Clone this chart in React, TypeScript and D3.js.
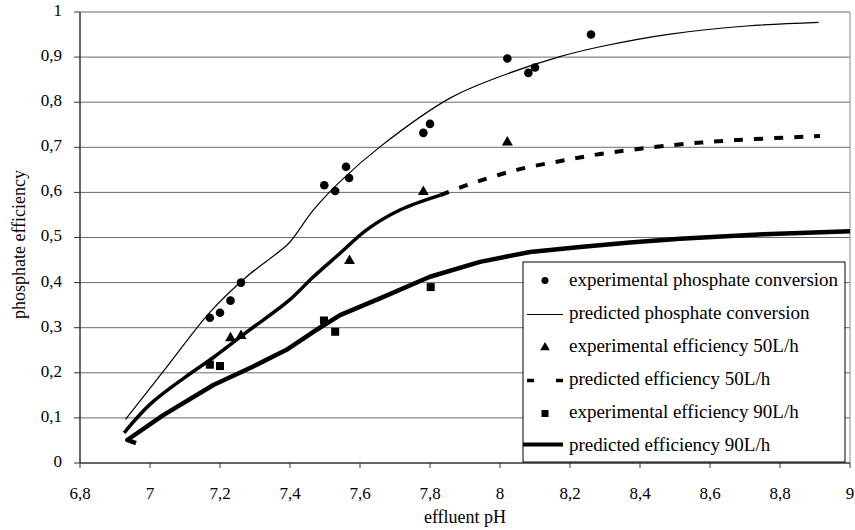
import React, { useEffect } from "react";
import * as d3 from "d3";

// Experimental data
const expPhosX = [7.171, 7.2, 7.23, 7.26, 7.498, 7.529, 7.56, 7.569, 7.781, 7.8, 8.021, 8.081, 8.1, 8.26];
const expPhosY = [0.322, 0.333, 0.36, 0.4, 0.616, 0.603, 0.657, 0.632, 0.732, 0.752, 0.897, 0.865, 0.877, 0.95];

const exp50X = [7.23, 7.26, 7.57, 7.781, 8.021];
const exp50Y = [0.277, 0.282, 0.448, 0.601, 0.711];

const exp90X = [7.171, 7.2, 7.497, 7.529, 7.802];
const exp90Y = [0.218, 0.215, 0.316, 0.291, 0.39];

// Predicted curves
const predPhosX = [6.93, 7.038, 7.171, 7.276, 7.371, 7.4, 7.467, 7.543, 7.657, 7.857, 8.0, 8.171, 8.286, 8.486, 8.705, 8.91];
const predPhosY = [0.097, 0.203, 0.334, 0.413, 0.47, 0.49, 0.561, 0.624, 0.701, 0.809, 0.857, 0.901, 0.923, 0.951, 0.969, 0.977];

const pred50X = [6.926, 7.0, 7.1, 7.181, 7.276, 7.398, 7.467, 7.543, 7.619, 7.714, 7.83];
const pred50Y = [0.067, 0.13, 0.19, 0.234, 0.29, 0.361, 0.413, 0.465, 0.517, 0.561, 0.594];
const pred50DashX = [7.83, 7.905, 8.048, 8.19, 8.286, 8.495, 8.676, 8.914];
const pred50DashY = [0.594, 0.616, 0.65, 0.672, 0.685, 0.705, 0.716, 0.725];

const pred90X = [6.96, 6.935, 7.038, 7.181, 7.295, 7.39, 7.467, 7.543, 7.657, 7.8, 7.943, 8.086, 8.229, 8.371, 8.514, 8.752, 9.0];
const pred90Y = [0.044, 0.051, 0.106, 0.173, 0.214, 0.251, 0.291, 0.328, 0.365, 0.413, 0.446, 0.468, 0.479, 0.489, 0.497, 0.507, 0.514];

const xTicks = [6.8, 7, 7.2, 7.4, 7.6, 7.8, 8, 8.2, 8.4, 8.6, 8.8, 9];
const yTicks = [0, 0.1, 0.2, 0.3, 0.4, 0.5, 0.6, 0.7, 0.8, 0.9, 1];

const legendLabels = [
  "experimental phosphate conversion",
  "predicted phosphate conversion",
  "experimental efficiency 50L/h",
  "predicted efficiency 50L/h",
  "experimental efficiency 90L/h",
  "predicted efficiency 90L/h",
];

const fmt = (v: number) => String(+v.toFixed(1)).replace(".", ",");

export default function App() {
  useEffect(() => {
    document.body.style.margin = "0";
  }, []);

  const W = 855, H = 530;
  const left = 80, right = 850, top = 12, bottom = 463;
  const x = d3.scaleLinear().domain([6.8, 9]).range([left, right]);
  const y = d3.scaleLinear().domain([0, 1]).range([bottom, top]);

  const line = d3
    .line<[number, number]>()
    .x((d) => x(d[0]))
    .y((d) => y(d[1]))
    .curve(d3.curveCatmullRom.alpha(0.5));
  const lineLin = d3
    .line<[number, number]>()
    .x((d) => x(d[0]))
    .y((d) => y(d[1]));
  const zip = (a: number[], b: number[]) => a.map((v, i) => [v, b[i]] as [number, number]);

  const font = "'Liberation Serif', 'Times New Roman', serif";
  const tri = d3.symbol().type(d3.symbolTriangle).size(52)();

  const lgX = 523, lgY = 262, lgW = 322, lgH = 200;
  const rowY = (i: number) => 281.5 + i * 33;
  const symX = 545;

  return (
    <svg width={W} height={H} style={{ display: "block", background: "#fff" }} fontFamily={font}>
      {yTicks.filter((t) => t > 0).map((t) => (
        <line key={"g" + t} x1={left} x2={right} y1={y(t)} y2={y(t)} stroke="#6a6a6a" strokeWidth={1} />
      ))}
      <line x1={right} x2={right} y1={top} y2={bottom} stroke="#8a8a8a" strokeWidth={1} />
      <line x1={left} x2={left} y1={top} y2={bottom} stroke="#333" strokeWidth={1.5} />
      <line x1={left} x2={right} y1={bottom} y2={bottom} stroke="#333" strokeWidth={1.5} />
      {yTicks.map((t) => (
        <g key={"y" + t}>
          <line x1={left - 6} x2={left} y1={y(t)} y2={y(t)} stroke="#333" />
          <text x={left - 18} y={y(t)} textAnchor="end" dominantBaseline="middle" fontSize={17}>
            {fmt(t)}
          </text>
        </g>
      ))}
      {xTicks.map((t) => (
        <g key={"x" + t}>
          <line x1={x(t)} x2={x(t)} y1={bottom} y2={bottom + 5} stroke="#333" />
          <text x={x(t)} y={499} textAnchor="middle" fontSize={17}>
            {fmt(t)}
          </text>
        </g>
      ))}
      <text x={(left + right) / 2} y={523} textAnchor="middle" fontSize={18}>
        effluent pH
      </text>
      <text
        transform={`translate(25,${(top + bottom) / 2 + 7}) rotate(-90)`}
        textAnchor="middle"
        fontSize={18}
      >
        phosphate efficiency
      </text>

      <path d={line(zip(predPhosX, predPhosY)) || ""} fill="none" stroke="#000" strokeWidth={1.2} />
      <path d={line(zip(pred50X, pred50Y)) || ""} fill="none" stroke="#000" strokeWidth={3.5} />
      <path
        d={line(zip(pred50DashX, pred50DashY)) || ""}
        fill="none"
        stroke="#000"
        strokeWidth={4}
        strokeDasharray="9,11"
      />
      <path d={lineLin(zip(pred90X, pred90Y)) || ""} fill="none" stroke="#000" strokeWidth={4.5} strokeLinejoin="round" />

      {expPhosX.map((v, i) => (
        <circle key={"c" + i} cx={x(v)} cy={y(expPhosY[i])} r={4.3} fill="#000" />
      ))}
      {exp50X.map((v, i) => (
        <path key={"t" + i} d={tri || ""} transform={`translate(${x(v)},${y(exp50Y[i])})`} fill="#000" />
      ))}
      {exp90X.map((v, i) => (
        <rect key={"s" + i} x={x(v) - 4} y={y(exp90Y[i]) - 4} width={8} height={8} fill="#000" />
      ))}

      <rect x={lgX} y={lgY} width={lgW} height={lgH} fill="#fff" stroke="#000" strokeWidth={1} />
      {legendLabels.map((l, i) => (
        <text key={"l" + i} x={569} y={rowY(i)} dominantBaseline="middle" fontSize={19}>
          {l}
        </text>
      ))}
      <circle cx={symX} cy={rowY(0) - 1} r={3.5} fill="#000" />
      <line x1={527} x2={563} y1={rowY(1)} y2={rowY(1)} stroke="#000" strokeWidth={1.2} />
      <path d={d3.symbol().type(d3.symbolTriangle).size(40)() || ""} transform={`translate(${symX},${rowY(2)})`} fill="#000" />
      <line x1={523} x2={566} y1={rowY(3)} y2={rowY(3)} stroke="#000" strokeWidth={3.5} strokeDasharray="7,22" strokeDashoffset={-4} />
      <rect x={symX - 3.5} y={rowY(4) - 3.5} width={7} height={7} fill="#000" />
      <line x1={523} x2={563} y1={rowY(5) - 2} y2={rowY(5) - 2} stroke="#000" strokeWidth={4} />
    </svg>
  );
}
